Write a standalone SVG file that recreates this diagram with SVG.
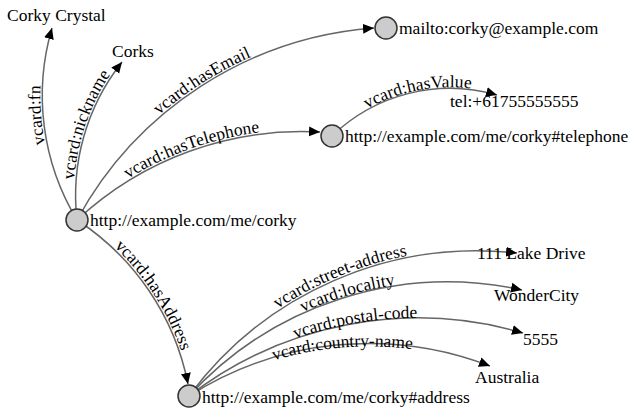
<svg xmlns="http://www.w3.org/2000/svg" width="631" height="412" viewBox="0 0 631 412">
<style>
  .edge { fill: none; stroke: #666; stroke-width: 1.5; marker-end: url(#arrow); }
  .elabel { font-family: "Liberation Serif", "Times New Roman", serif; font-size: 17.5px; fill: #000; }
  .node circle { fill: #ccc; stroke: #333; stroke-width: 1.5; }
  .node text, .lit text { font-family: "Liberation Serif", "Times New Roman", serif; font-size: 17.5px; fill: #000; }
</style>
<defs>
  <marker id="arrow" viewBox="0 -5 10 10" refX="10" refY="0" markerWidth="11" markerHeight="11" markerUnits="userSpaceOnUse" orient="auto">
    <path d="M0,-4.5L10,0L0,4.5Z" fill="#000"/>
  </marker>
</defs>
<g id="connectors">
  <path id="e-fn" class="edge" d="M77,220 A240,240 0 0 1 52,28"/>
  <path id="e-nick" class="edge" d="M77,220 A215,215 0 0 1 122,62"/>
  <path id="e-email" class="edge" d="M77,220 A370,370 0 0 1 374,28"/>
  <path id="e-tel" class="edge" d="M77,220 A330,330 0 0 1 320,132"/>
  <path id="e-val" class="edge" d="M332,136 A170,170 0 0 1 497,95"/>
  <path id="e-addr" class="edge" d="M77,220 A255,255 0 0 1 188,384"/>
  <path id="e-street" class="edge" d="M189,396 A358,358 0 0 1 517,253"/>
  <path id="e-loc" class="edge" d="M189,396 A350,350 0 0 1 522,290"/>
  <path id="e-postal" class="edge" d="M189,396 A375,375 0 0 1 523,333"/>
  <path id="e-country" class="edge" d="M189,396 A335,335 0 0 1 490,366"/>
  <text class="elabel" dy="-2"><textPath href="#e-fn" startOffset="56%" text-anchor="middle">vcard:fn</textPath></text>
  <text class="elabel" dy="-2"><textPath href="#e-nick" startOffset="57%" text-anchor="middle">vcard:nickname</textPath></text>
  <text class="elabel" dy="-2"><textPath href="#e-email" startOffset="51%" text-anchor="middle">vcard:hasEmail</textPath></text>
  <text class="elabel" dy="-2"><textPath href="#e-tel" startOffset="51%" text-anchor="middle">vcard:hasTelephone</textPath></text>
  <text class="elabel" dy="-1"><textPath href="#e-val" startOffset="55%" text-anchor="middle">vcard:hasValue</textPath></text>
  <text class="elabel" dy="-2"><textPath href="#e-addr" startOffset="53%" text-anchor="middle">vcard:hasAddress</textPath></text>
  <text class="elabel" dy="-2"><textPath href="#e-street" startOffset="52%" text-anchor="middle">vcard:street-address</textPath></text>
  <text class="elabel" dy="-1"><textPath href="#e-loc" startOffset="52%" text-anchor="middle">vcard:locality</textPath></text>
  <text class="elabel" dy="0"><textPath href="#e-postal" startOffset="52%" text-anchor="middle">vcard:postal-code</textPath></text>
  <text class="elabel" dy="3"><textPath href="#e-country" startOffset="52%" text-anchor="middle">vcard:country-name</textPath></text>
</g>
<g id="node-corky" class="node">
  <circle cx="77" cy="220" r="11"/>
  <text x="90" y="226">http://example.com/me/corky</text>
</g>
<g id="node-email" class="node">
  <circle cx="386" cy="28" r="11"/>
  <text x="399" y="34">mailto:corky@example.com</text>
</g>
<g id="node-telephone" class="node">
  <circle cx="332" cy="136" r="11"/>
  <text x="345" y="142">http://example.com/me/corky#telephone</text>
</g>
<g id="node-address" class="node">
  <circle cx="189" cy="396" r="11"/>
  <text x="202" y="403">http://example.com/me/corky#address</text>
</g>
<g id="lit-fn" class="lit"><text x="7" y="21">Corky Crystal</text></g>
<g id="lit-nick" class="lit"><text x="112" y="57">Corks</text></g>
<g id="lit-tel" class="lit"><text x="450" y="107">tel:+61755555555</text></g>
<g id="lit-street" class="lit"><text x="477" y="259">111 Lake Drive</text></g>
<g id="lit-loc" class="lit"><text x="494" y="301">WonderCity</text></g>
<g id="lit-postal" class="lit"><text x="523" y="345">5555</text></g>
<g id="lit-country" class="lit"><text x="475" y="383">Australia</text></g>
</svg>
